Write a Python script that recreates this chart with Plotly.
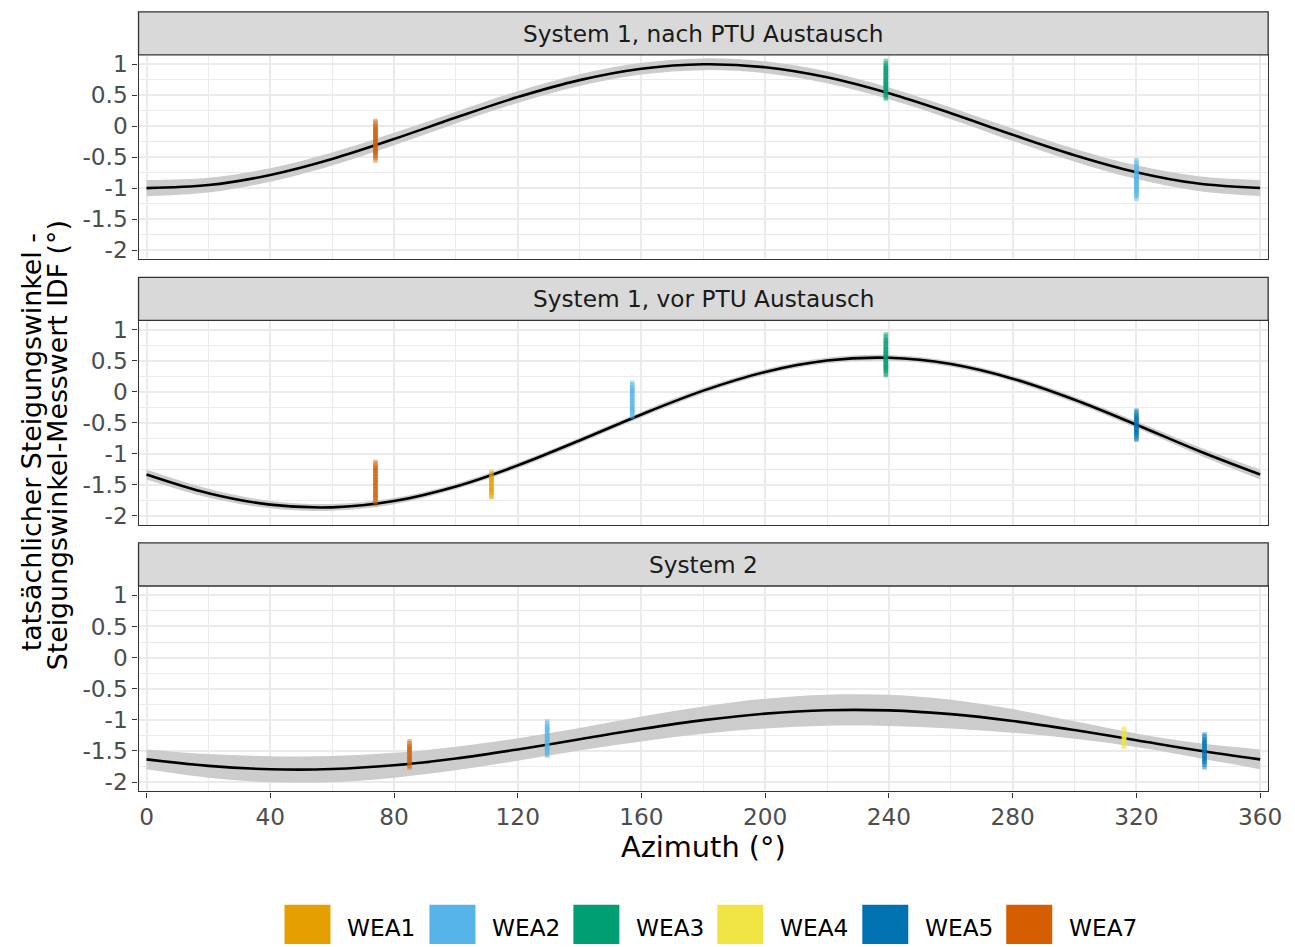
import plotly.graph_objects as go

# The captured picture maps page pixels to picture pixels as
# picture = S * page + offset; positions below are given in picture pixels
# and converted, so the result lines up with the reference.
S = 0.9895
OFF_X, OFF_Y = -0.5, 4.25
PAGE_MARGIN = 8
W, H = 1293, 940

# ---------------- data ----------------
azimuth_grid = [0, 20, 40, 60, 80, 100, 120, 140, 160, 180, 200, 220, 240, 260, 280, 300, 320, 340, 360]

fit_p1 = [-1.0, -0.951, -0.788, -0.530, -0.208, 0.139, 0.469, 0.743, 0.927, 0.999,
          0.951, 0.788, 0.530, 0.208, -0.139, -0.469, -0.743, -0.927, -0.999]
half_p1 = [0.13, 0.12, 0.11, 0.105, 0.10, 0.095, 0.095, 0.095, 0.095, 0.095,
           0.095, 0.095, 0.095, 0.095, 0.10, 0.105, 0.11, 0.12, 0.13]

fit_p2 = [-1.337, -1.639, -1.823, -1.867, -1.766, -1.530, -1.190, -0.787, -0.367, 0.017,
          0.319, 0.503, 0.547, 0.446, 0.210, -0.130, -0.533, -0.953, -1.337]
half_p2 = [0.08, 0.07, 0.06, 0.055, 0.05, 0.045, 0.045, 0.045, 0.045, 0.045,
           0.045, 0.045, 0.045, 0.045, 0.045, 0.05, 0.055, 0.065, 0.08]

fit_p3 = [-1.635, -1.740, -1.794, -1.791, -1.731, -1.622, -1.476, -1.312, -1.148, -1.005,
          -0.900, -0.846, -0.849, -0.909, -1.018, -1.164, -1.328, -1.492, -1.635]
half_p3 = [0.16, 0.19, 0.21, 0.21, 0.20, 0.19, 0.18, 0.18, 0.20, 0.22,
           0.24, 0.25, 0.25, 0.23, 0.19, 0.14, 0.11, 0.12, 0.16]

panel_titles = ["System 1, nach PTU Austausch", "System 1, vor PTU Austausch", "System 2"]

turbines = ["WEA1", "WEA2", "WEA3", "WEA4", "WEA5", "WEA7"]
turbine_colors = ["#E69F00", "#56B4E9", "#009E73", "#F0E442", "#0072B2", "#D55E00"]

cluster_panel = [1, 1, 1, 2, 2, 2, 2, 2, 3, 3, 3, 3]
cluster_turbine = ["WEA7", "WEA3", "WEA2", "WEA7", "WEA1", "WEA2", "WEA3", "WEA5", "WEA7", "WEA2", "WEA4", "WEA5"]
cluster_azimuth = [74, 239, 320, 74, 111.5, 157, 239, 320, 85, 129.5, 316, 342]
cluster_values = [
    [0.03, 0.0, -0.05, -0.1, -0.14, -0.18, -0.22, -0.26, -0.3, -0.34, -0.38, -0.42, -0.46, -0.5],
    [1.0, 0.96, 0.92, 0.88, 0.83, 0.79, 0.75, 0.71, 0.67, 0.63, 0.6, 0.56, 0.52, 0.5],
    [-0.6, -0.64, -0.7, -0.75, -0.8, -0.84, -0.88, -0.92, -0.96, -1.0, -1.05, -1.08, -1.12],
    [-1.19, -1.22, -1.27, -1.32, -1.37, -1.42, -1.47, -1.52, -1.57, -1.62, -1.67, -1.72, -1.76],
    [-1.35, -1.38, -1.43, -1.48, -1.53, -1.58, -1.63, -1.65],
    [0.09, 0.06, 0.01, -0.04, -0.09, -0.14, -0.19, -0.24, -0.29, -0.33, -0.35],
    [0.87, 0.84, 0.78, 0.72, 0.67, 0.63, 0.59, 0.55, 0.51, 0.47, 0.43, 0.39, 0.34, 0.32],
    [-0.36, -0.39, -0.44, -0.49, -0.53, -0.57, -0.61, -0.66, -0.7, -0.72],
    [-1.4, -1.43, -1.48, -1.53, -1.58, -1.63, -1.68, -1.71],
    [-1.08, -1.11, -1.16, -1.21, -1.26, -1.31, -1.36, -1.41, -1.46, -1.5, -1.52],
    [-1.19, -1.22, -1.27, -1.32, -1.36, -1.38],
    [-1.29, -1.32, -1.37, -1.42, -1.47, -1.52, -1.57, -1.62, -1.67, -1.71],
]

x_ticks = [0, 40, 80, 120, 160, 200, 240, 280, 320, 360]
x_ticklabels = ["0", "40", "80", "120", "160", "200", "240", "280", "320", "360"]
x_minor = [20, 60, 100, 140, 180, 220, 260, 300, 340]
y_ticks = [1, 0.5, 0, -0.5, -1, -1.5, -2]
y_ticklabels = ["1", "0.5", "0", "-0.5", "-1", "-1.5", "-2"]
y_minor = [0.75, 0.25, -0.25, -0.75, -1.25, -1.75]

# ---------------- layout helpers (picture pixel -> paper fraction) ----------------
def fx(p):
    page = (p - OFF_X) / S
    return (page - PAGE_MARGIN) / W

def fy(p):
    page = (p - OFF_Y) / S
    return 1 - (page - PAGE_MARGIN) / H

def fs(size):
    return size / S

FONT = "DejaVu Sans"
PANEL_X = (138, 1268)
panels_px = [(55, 259), (320, 524), (585, 790)]
strips_px = [(12, 55), (277, 320), (542, 585)]
X_RANGE = [-2.585, 362.585]
Y_RANGE = [-2.15, 1.15]
BORDER = "#333333"
GRID = "#EBEBEB"
TICK_SIZE = fs(23)
XTITLE_SIZE = fs(28.5)
YTITLE_SIZE = fs(26.5)

fits = [fit_p1, fit_p2, fit_p3]
halves = [half_p1, half_p2, half_p3]

fig = go.Figure()
color_of = dict(zip(turbines, turbine_colors))

for i in range(3):
    sfx = "" if i == 0 else str(i + 1)
    xa, ya = "x" + sfx, "y" + sfx
    fit, half = fits[i], halves[i]
    upper = [f + h for f, h in zip(fit, half)]
    lower = [f - h for f, h in zip(fit, half)]
    fig.add_trace(go.Scatter(x=azimuth_grid, y=upper, mode="lines", line=dict(width=0, shape="spline"),
                             xaxis=xa, yaxis=ya, showlegend=False, hoverinfo="skip"))
    fig.add_trace(go.Scatter(x=azimuth_grid, y=lower, mode="lines", line=dict(width=0, shape="spline"),
                             fill="tonexty", fillcolor="#CCCCCC",
                             xaxis=xa, yaxis=ya, showlegend=False, hoverinfo="skip"))
    fig.add_trace(go.Scatter(x=azimuth_grid, y=fit, mode="lines",
                             line=dict(color="black", width=2.6, shape="spline"),
                             xaxis=xa, yaxis=ya, showlegend=False))

for pnl, turb, az, vals in zip(cluster_panel, cluster_turbine, cluster_azimuth, cluster_values):
    sfx = "" if pnl == 1 else str(pnl)
    fig.add_trace(go.Scatter(x=[az] * len(vals), y=vals, mode="markers",
                             marker=dict(symbol="line-ns", size=8, opacity=0.45,
                                         line=dict(width=4.5, color=color_of[turb])),
                             xaxis="x" + sfx, yaxis="y" + sfx, showlegend=False, name=turb))

layout = dict(
    width=W, height=H,
    margin=dict(l=0, r=0, t=0, b=0),
    paper_bgcolor="white", plot_bgcolor="white",
    font=dict(family=FONT, color="#1A1A1A"),
    showlegend=False,
)

shapes = []
annotations = []
for i in range(3):
    sfx = "" if i == 0 else str(i + 1)
    top, bot = panels_px[i]
    bottom_panel = (i == 2)
    layout["xaxis" + sfx] = dict(
        domain=[fx(PANEL_X[0]), fx(PANEL_X[1])], range=X_RANGE, anchor="y" + sfx,
        tickmode="array", tickvals=x_ticks, ticktext=x_ticklabels,
        showticklabels=bottom_panel, ticks="outside" if bottom_panel else "",
        ticklen=5, tickwidth=1.3, tickcolor=BORDER,
        tickfont=dict(family=FONT, size=TICK_SIZE, color="#4D4D4D"),
        showgrid=True, gridcolor=GRID, gridwidth=1.6,
        minor=dict(tickmode="array", tickvals=x_minor, showgrid=True, gridcolor=GRID, gridwidth=1.4, ticks=""),
        showline=True, mirror=True, linecolor=BORDER, linewidth=1.3, zeroline=False,
    )
    layout["yaxis" + sfx] = dict(
        domain=[fy(bot), fy(top)], range=Y_RANGE, anchor="x" + sfx,
        tickmode="array", tickvals=y_ticks, ticktext=y_ticklabels,
        ticks="outside", ticklen=5, tickwidth=1.3, tickcolor=BORDER,
        tickfont=dict(family=FONT, size=TICK_SIZE, color="#4D4D4D"),
        showgrid=True, gridcolor=GRID, gridwidth=1.6,
        minor=dict(tickmode="array", tickvals=y_minor, showgrid=True, gridcolor=GRID, gridwidth=1.4, ticks=""),
        showline=True, mirror=True, linecolor=BORDER, linewidth=1.3, zeroline=False,
    )
    st, sb = strips_px[i]
    shapes.append(dict(type="rect", xref="paper", yref="paper",
                       x0=fx(PANEL_X[0]), x1=fx(PANEL_X[1]), y0=fy(sb), y1=fy(st),
                       fillcolor="#D9D9D9", line=dict(color=BORDER, width=1.3), layer="above"))
    annotations.append(dict(text=panel_titles[i], xref="paper", yref="paper",
                            x=fx((PANEL_X[0] + PANEL_X[1]) / 2), y=fy((st + sb) / 2),
                            xanchor="center", yanchor="middle", showarrow=False,
                            font=dict(family=FONT, size=TICK_SIZE, color="#1A1A1A")))

# axis titles
annotations.append(dict(text="Azimuth (°)", xref="paper", yref="paper",
                        x=fx((PANEL_X[0] + PANEL_X[1]) / 2), y=fy(845),
                        xanchor="center", yanchor="middle", showarrow=False,
                        font=dict(family=FONT, size=XTITLE_SIZE, color="black")))
annotations.append(dict(text="tatsächlicher Steigungswinkel -", xref="paper", yref="paper",
                        x=fx(31), y=fy(442), xanchor="center", yanchor="middle", showarrow=False,
                        textangle=-90, font=dict(family=FONT, size=YTITLE_SIZE, color="black")))
annotations.append(dict(text="Steigungswinkel-Messwert IDF (°)", xref="paper", yref="paper",
                        x=fx(57), y=fy(445), xanchor="center", yanchor="middle", showarrow=False,
                        textangle=-90, font=dict(family=FONT, size=YTITLE_SIZE, color="black")))

# legend (drawn manually with big square keys)
key_left = [284, 429, 573, 717, 862, 1006]
for name, col, kx in zip(turbines, turbine_colors, key_left):
    shapes.append(dict(type="rect", xref="paper", yref="paper",
                       x0=fx(kx), x1=fx(kx + 46), y0=max(fy(946), 0), y1=fy(903),
                       fillcolor=col, line=dict(width=0)))
    annotations.append(dict(text=name, xref="paper", yref="paper",
                            x=fx(kx + 61), y=fy(926), xanchor="left", yanchor="middle",
                            showarrow=False, font=dict(family=FONT, size=TICK_SIZE, color="black")))

layout["shapes"] = shapes
layout["annotations"] = annotations
fig.update_layout(**layout)

fig.write_html("out.html", config={"displayModeBar": False})
